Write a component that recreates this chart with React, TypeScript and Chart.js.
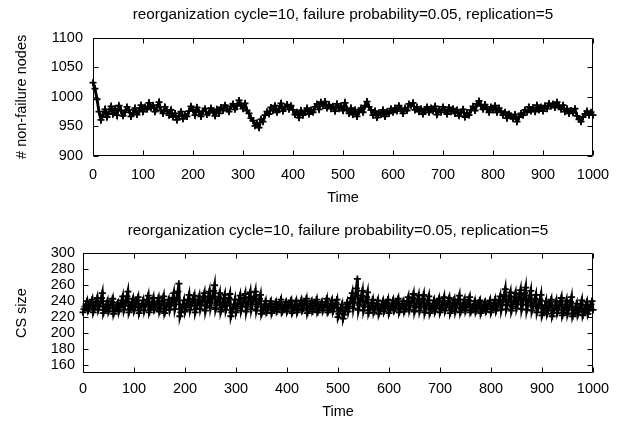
import React, { useEffect, useRef } from 'react';
import { Chart, registerables } from 'chart.js';

Chart.register(...registerables);

const TITLE = 'reorganization cycle=10, failure probability=0.05, replication=5';
const X_LABEL = 'Time';
const NODES_LABEL = '# non-failure nodes';
const CS_LABEL = 'CS size';

const TIME_START = 0;
const TIME_END = 1000;
const X_TICKS = [0, 100, 200, 300, 400, 500, 600, 700, 800, 900, 1000];
const NODES_Y_TICKS = [900, 950, 1000, 1050, 1100];
const CS_Y_TICKS = [160, 180, 200, 220, 240, 260, 280, 300];
const NODES_RANGE = [900, 1100];
const CS_RANGE = [150, 300];

const nodesSeries = [
  1024, 1014, 996, 975, 961, 970, 979, 966, 975, 984,
  971, 980, 969, 985, 977, 968, 974, 983, 978, 967,
  973, 981, 970, 977, 986, 975, 983, 979, 990, 981,
  986, 975, 982, 991, 977, 972, 983, 976, 969, 978,
  966, 972, 961, 968, 975, 963, 970, 967, 976, 984,
  978, 969, 982, 974, 967, 976, 980, 970, 973, 981,
  976, 968, 979, 972, 982, 977, 986, 980, 975, 984,
  988, 979, 985, 994, 986, 980, 989, 977, 972, 964,
  960, 951, 956, 948, 962, 958, 969, 975, 971, 982,
  977, 985, 974, 980, 989, 976, 983, 987, 979, 985,
  978, 970, 974, 965, 977, 969, 975, 981, 971, 978,
  974, 983, 988, 979, 991, 985, 992, 981, 987, 980,
  984, 976, 988, 980, 985, 977, 990, 979, 972, 981,
  970, 978, 967, 975, 981, 974, 985, 992, 983, 978,
  969, 976, 965, 973, 970, 978, 967, 975, 972, 980,
  974, 981, 976, 985, 979, 972, 981, 977, 988, 985,
  990, 978, 983, 975, 980, 971, 978, 983, 974, 981,
  976, 984, 970, 979, 974, 983, 978, 971, 982, 975,
  980, 972, 978, 968, 974, 979, 966, 973, 969, 978,
  984, 977, 988, 993, 985, 979, 987, 980, 974, 983,
  978, 985, 974, 981, 976, 969, 974, 964, 971, 968,
  963, 970, 958, 966, 972, 969, 978, 974, 983, 976,
  982, 975, 986, 978, 983, 976, 985, 980, 989, 984,
  988, 982, 991, 984, 979, 986, 975, 980, 972, 977,
  973, 980, 968, 962, 958, 966, 971, 976, 969, 974,
  969,
];

// CS size, sampled every 2 time units (5 samples per reorganization cycle)
const csSeries = [
  226, 230, 233, 236, 240, 228, 231, 235, 238, 242,
  226, 230, 234, 239, 244, 229, 233, 238, 244, 250,
  225, 229, 232, 236, 240, 227, 231, 235, 239, 243,
  224, 228, 231, 235, 238, 227, 232, 236, 241, 246,
  229, 234, 240, 246, 252, 226, 230, 234, 239, 243,
  228, 232, 237, 241, 245, 225, 229, 233, 237, 241,
  228, 233, 237, 242, 247, 226, 230, 235, 239, 244,
  229, 232, 236, 240, 244, 227, 231, 236, 241, 246,
  225, 229, 234, 238, 242, 229, 234, 239, 244, 250,
  230, 236, 243, 252, 262, 221, 226, 231, 236, 241,
  227, 232, 237, 242, 248, 229, 234, 238, 243, 247,
  226, 231, 236, 241, 246, 230, 235, 240, 245, 250,
  228, 234, 240, 246, 252, 232, 238, 245, 253, 260,
  230, 235, 240, 245, 250, 227, 232, 237, 243, 248,
  229, 234, 239, 244, 249, 221, 226, 231, 236, 242,
  226, 231, 237, 242, 247, 228, 233, 238, 244, 249,
  227, 233, 239, 245, 251, 230, 236, 241, 246, 252,
  228, 233, 238, 243, 248, 224, 228, 232, 236, 240,
  226, 229, 233, 237, 240, 225, 229, 233, 236, 239,
  227, 230, 234, 238, 242, 226, 229, 232, 236, 239,
  227, 231, 234, 238, 241, 225, 228, 232, 236, 240,
  226, 230, 234, 237, 241, 228, 231, 235, 239, 243,
  225, 229, 233, 237, 240, 227, 230, 234, 238, 242,
  226, 229, 233, 236, 239, 228, 232, 235, 239, 243,
  226, 229, 233, 237, 241, 227, 231, 235, 238, 242,
  220, 224, 228, 232, 236, 218, 223, 228, 233, 238,
  227, 233, 238, 244, 250, 231, 238, 246, 256, 268,
  229, 235, 241, 247, 253, 228, 233, 239, 245, 251,
  225, 229, 233, 238, 242, 226, 230, 234, 237, 241,
  224, 228, 232, 236, 240, 227, 231, 234, 238, 242,
  225, 229, 233, 237, 241, 228, 231, 235, 239, 243,
  226, 230, 233, 237, 240, 227, 231, 236, 240, 245,
  229, 234, 239, 244, 249, 227, 232, 237, 242, 247,
  228, 233, 238, 243, 248, 226, 231, 236, 241, 246,
  225, 229, 233, 237, 241, 227, 231, 235, 239, 243,
  226, 230, 235, 240, 245, 228, 232, 236, 240, 244,
  225, 229, 234, 238, 242, 227, 232, 237, 242, 247,
  226, 230, 234, 238, 242, 228, 232, 236, 241, 245,
  226, 229, 233, 236, 240, 227, 231, 234, 238, 241,
  225, 229, 232, 236, 239, 227, 230, 234, 237, 241,
  226, 230, 234, 238, 242, 228, 232, 237, 241, 246,
  229, 235, 241, 248, 255, 230, 235, 240, 246, 251,
  228, 233, 239, 245, 250, 231, 236, 242, 248, 254,
  230, 236, 243, 250, 257, 229, 235, 241, 247, 253,
  228, 233, 238, 243, 248, 226, 231, 236, 242, 248,
  222, 226, 231, 235, 240, 224, 228, 233, 238, 242,
  221, 225, 230, 235, 240, 225, 229, 234, 239, 244,
  222, 226, 231, 236, 241, 224, 229, 234, 239, 245,
  221, 225, 229, 233, 237, 223, 227, 232, 236, 241,
  222, 226, 230, 235, 239, 224, 228, 232, 236, 240,
  229,
];

const FONT_FAMILY = '"Liberation Sans", Arial, Helvetica, sans-serif';
const LABEL_SIZE = 14.5;
const TITLE_SIZE = 15.3;

function toPoints(values: number[]) {
  const n = values.length;
  return values.map((v, i) => ({ x: TIME_START + (i * (TIME_END - TIME_START)) / (n - 1), y: v }));
}

const gnuplotFrame = {
  id: 'gnuplotFrame',
  afterDatasetsDraw(chart: any) {
    const { ctx, chartArea: a, scales } = chart;
    const L = Math.round(a.left) + 0.5;
    const R = Math.round(a.right) - 0.5;
    const T = Math.round(a.top) + 0.5;
    const B = Math.round(a.bottom) - 0.5;
    const len = 5;
    ctx.save();
    ctx.strokeStyle = '#000';
    ctx.lineWidth = 1;
    ctx.beginPath();
    ctx.rect(L, T, R - L, B - T);
    for (const t of scales.x.ticks) {
      const px = Math.round(scales.x.getPixelForValue(t.value)) + 0.5;
      ctx.moveTo(px, B);
      ctx.lineTo(px, B - len);
      ctx.moveTo(px, T);
      ctx.lineTo(px, T + len);
    }
    for (const t of scales.y.ticks) {
      const py = Math.round(scales.y.getPixelForValue(t.value)) + 0.5;
      ctx.moveTo(L, py);
      ctx.lineTo(L + len, py);
      ctx.moveTo(R, py);
      ctx.lineTo(R - len, py);
    }
    ctx.stroke();
    ctx.restore();
  },
};

interface PanelCfg {
  width: number;
  height: number;
  values: number[];
  yLabel: string;
  yRange: number[];
  yTicks: number[];
  yAxisWidth: number;
  yTickPad: number;
  xAxisHeight: number;
  xTickPad: number;
  xTitlePadBottom: number;
  titlePadTop: number;
  titlePadBottom: number;
  rightPad: number;
  lineWidth: number;
}

function makeConfig(c: PanelCfg): any {
  return {
    type: 'line',
    data: {
      datasets: [
        {
          data: toPoints(c.values),
          borderColor: '#000',
          backgroundColor: '#000',
          borderWidth: c.lineWidth,
          pointStyle: 'cross',
          pointRadius: 3.5,
          pointBorderWidth: 1.8,
          pointBorderColor: '#000',
          tension: 0,
          clip: false,
        },
      ],
    },
    options: {
      animation: false,
      responsive: false,
      maintainAspectRatio: false,
      events: [],
      layout: { padding: { left: 0, right: c.rightPad, top: 0, bottom: 0 } },
      plugins: {
        legend: { display: false },
        tooltip: { enabled: false },
        title: {
          display: true,
          text: TITLE,
          fullSize: false,
          color: '#000',
          font: { family: FONT_FAMILY, size: TITLE_SIZE, weight: 'normal' },
          padding: { top: c.titlePadTop, bottom: c.titlePadBottom },
        },
      },
      scales: {
        x: {
          type: 'linear',
          min: TIME_START,
          max: TIME_END,
          grid: { display: false, drawTicks: false },
          border: { display: false },
          afterBuildTicks: (axis: any) => {
            axis.ticks = X_TICKS.map((v) => ({ value: v }));
          },
          afterFit: (axis: any) => {
            axis.height = c.xAxisHeight;
          },
          ticks: {
            color: '#000',
            padding: c.xTickPad,
            maxRotation: 0,
            autoSkip: false,
            font: { family: FONT_FAMILY, size: LABEL_SIZE },
            callback: (v: any) => String(v),
          },
          title: {
            display: true,
            text: X_LABEL,
            color: '#000',
            font: { family: FONT_FAMILY, size: LABEL_SIZE },
            padding: { top: 0, bottom: c.xTitlePadBottom },
          },
        },
        y: {
          type: 'linear',
          min: c.yRange[0],
          max: c.yRange[1],
          grid: { display: false, drawTicks: false },
          border: { display: false },
          afterBuildTicks: (axis: any) => {
            axis.ticks = c.yTicks.map((v) => ({ value: v }));
          },
          afterFit: (axis: any) => {
            axis.width = c.yAxisWidth;
          },
          ticks: {
            color: '#000',
            padding: c.yTickPad,
            autoSkip: false,
            font: { family: FONT_FAMILY, size: LABEL_SIZE },
            callback: (v: any) => String(v),
          },
          title: {
            display: true,
            text: c.yLabel,
            color: '#000',
            font: { family: FONT_FAMILY, size: LABEL_SIZE },
            padding: { top: 13, bottom: 0 },
          },
        },
      },
    },
    plugins: [gnuplotFrame],
  };
}

function Panel({ cfg }: { cfg: PanelCfg }) {
  const ref = useRef<HTMLCanvasElement | null>(null);
  useEffect(() => {
    if (!ref.current) return;
    const chart = new Chart(ref.current, makeConfig(cfg));
    return () => chart.destroy();
  }, []);
  return (
    <canvas
      ref={ref}
      width={cfg.width}
      height={cfg.height}
      style={{ display: 'block', width: cfg.width, height: cfg.height }}
    />
  );
}

const TOP_PANEL: PanelCfg = {
  width: 634,
  height: 210,
  values: nodesSeries,
  yLabel: NODES_LABEL,
  yRange: NODES_RANGE,
  yTicks: NODES_Y_TICKS,
  yAxisWidth: 93,
  yTickPad: 10,
  xAxisHeight: 54,
  xTickPad: 10,
  xTitlePadBottom: 3.8,
  titlePadTop: 5.2,
  titlePadBottom: 14.2,
  rightPad: 41,
  lineWidth: 2.9,
};

const BOTTOM_PANEL: PanelCfg = {
  width: 634,
  height: 211,
  values: csSeries,
  yLabel: CS_LABEL,
  yRange: CS_RANGE,
  yTicks: CS_Y_TICKS,
  yAxisWidth: 83,
  yTickPad: 8,
  xAxisHeight: 48.3,
  xTickPad: 8,
  xTitlePadBottom: 0,
  titlePadTop: 11.2,
  titlePadBottom: 13.9,
  rightPad: 41,
  lineWidth: 2.8,
};

export default function App() {
  return (
    <div
      style={{
        position: 'fixed',
        left: 0,
        top: 0,
        width: 634,
        height: 421,
        background: '#fff',
        overflow: 'hidden',
      }}
    >
      <Panel cfg={TOP_PANEL} />
      <Panel cfg={BOTTOM_PANEL} />
    </div>
  );
}
